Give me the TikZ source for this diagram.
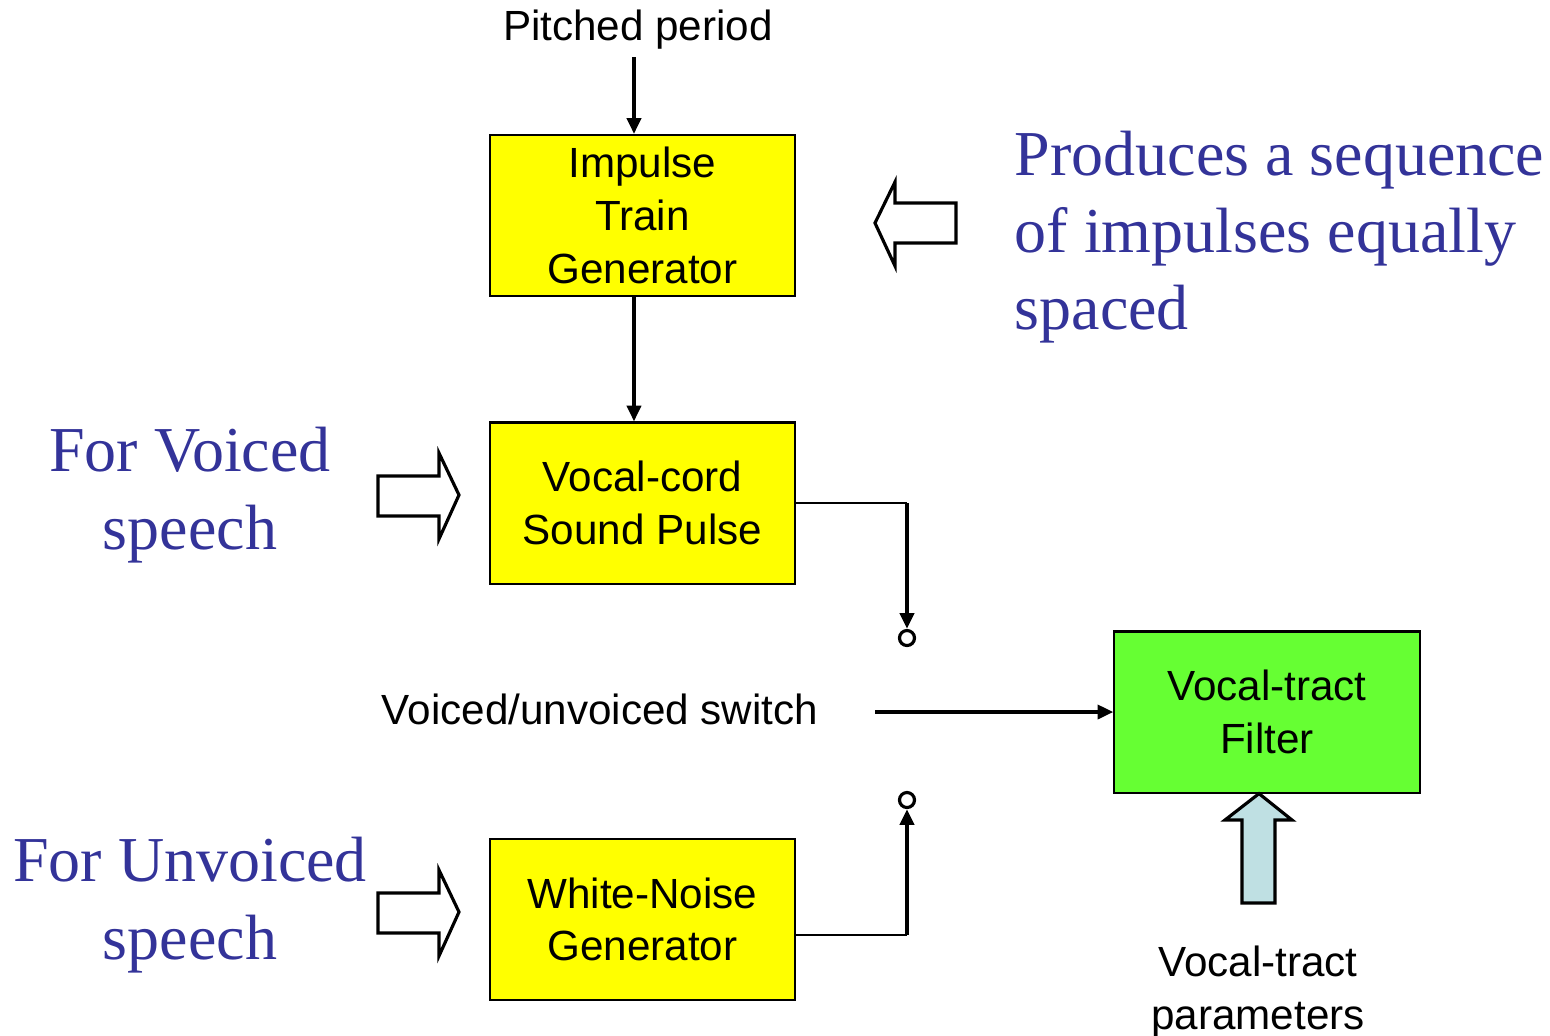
\documentclass[tikz,border=0pt]{standalone}
\usepackage{fontspec}
\setmainfont{Liberation Sans}
\newfontfamily\notefont{Liberation Serif}
\usepackage{xcolor}
\usetikzlibrary{arrows.meta}
\definecolor{noteblue}{HTML}{333399}
\definecolor{boxyellow}{HTML}{FFFF00}
\definecolor{boxgreen}{HTML}{66FF33}
\definecolor{paramblue}{HTML}{BFE0E3}

\begin{document}
\begin{tikzpicture}[x=0.01cm,y=-0.01cm,
  blk/.style={draw,line width=0.6pt,fill=boxyellow,minimum width=3.05cm,minimum height=1.61cm,
    align=center,inner sep=0pt,font=\fontsize{12}{15}\selectfont},
  lbl/.style={align=center,inner sep=0pt,font=\fontsize{12}{15}\selectfont},
  note/.style={text=noteblue,inner sep=0pt,font=\notefont\fontsize{18.2}{22}\selectfont},
  conn/.style={line width=1pt,-{Triangle[length=4.5pt,width=4pt]}},
  wire/.style={line width=0.6pt},
  sw/.style={circle,draw,line width=0.9pt,fill=white,minimum size=0.15cm,inner sep=0pt},
  fat/.style={draw,line width=0.9pt,line join=miter}]
\useasboundingbox (0,0) rectangle (1550,1035);

% blocks
\node[blk] (itg) at (642.5,215.5) {Impulse\\Train\\Generator};
\node[blk] (vcs) at (642.5,503) {Vocal-cord\\Sound Pulse};
\node[blk] (wng) at (642.5,919.5) {White-Noise\\Generator};
\node[blk,fill=boxgreen] (vtf) at (1267,712) {Vocal-tract\\Filter};

\node[lbl] (pp) at (638,30) {Pitched period};
\node[lbl] (vus) at (600,709) {Voiced/unvoiced switch};
\node[lbl] (vtp) at (1258,992) {Vocal-tract\\parameters};

% switch contacts
\node[sw] (s1) at (907,638) {};
\node[sw] (s2) at (907,800) {};
\coordinate (k1) at (907,503);
\coordinate (k2) at (907,935);
\coordinate (ppend) at (634,57);
\coordinate (swout) at (875,712);

\draw[conn] (ppend) -- ([xshift=-0.085cm]itg.north);
\draw[conn] ([xshift=-0.085cm]itg.south) -- ([xshift=-0.085cm]vcs.north);
\draw[wire] (vcs.east) -- (k1);
\draw[conn,line width=1.3pt] (k1) -- (s1.north);
\draw[wire] (wng.east |- k2) -- (k2);
\draw[conn,line width=1.3pt] (k2) -- (s2.south);
\draw[conn] (swout) -- (vtf.west);

% block arrows
\draw[fat] (875,223) -- (895,182) -- (895,203) -- (956,203) -- (956,243) -- (895,243) -- (895,266) -- cycle;
\draw[fat] (459,495) -- (439,453) -- (439,476) -- (378,476) -- (378,516) -- (439,516) -- (439,539) -- cycle;
\draw[fat] (459,912) -- (439,870) -- (439,893) -- (378,893) -- (378,933) -- (439,933) -- (439,956) -- cycle;
\draw[fat,fill=paramblue] (vtf.south -| 1259,0) -- (1292,820) -- (1275,820) -- (1275,903) -- (1242,903) -- (1242,820) -- (1225,820) -- cycle;

% notes
\node[note,align=left,anchor=west] (seq) at (1014,237) {Produces a sequence\\of impulses equally\\spaced};
\node[note,align=center] (voiced) at (190,495) {For Voiced\\speech};
\node[note,align=center] (unvoiced) at (190,905) {For Unvoiced\\speech};
\end{tikzpicture}
\end{document}
